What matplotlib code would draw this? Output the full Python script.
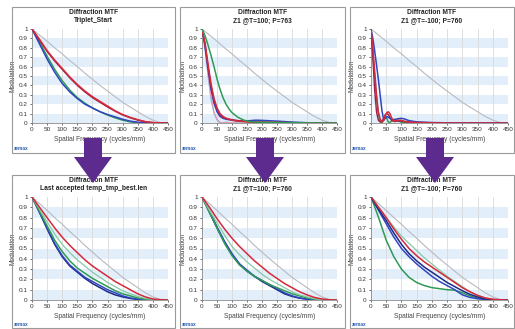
import matplotlib
matplotlib.use("Agg")
import matplotlib.pyplot as plt
from matplotlib.patches import Rectangle, Polygon

plt.rcParams['font.family'] = ['Liberation Sans', 'DejaVu Sans']

W, H = 515, 329

# --- data ---
x_std = [0, 25, 50, 75, 100, 125, 150, 175, 200, 225, 250, 275, 300, 325, 350, 375, 400, 425, 450]
diff_limit = [1.0, 0.935, 0.87, 0.80, 0.735, 0.665, 0.6, 0.53, 0.465, 0.4, 0.34, 0.28, 0.22, 0.17, 0.12, 0.07, 0.03, 0.005, 0.0]

titles = ["Triplet_Start", "Z1 @T=100; P=763", "Z1 @T=-100; P=760",
          "Last accepted temp_tmp_best.len", "Z1 @T=100; P=760", "Z1 @T=-100; P=760"]

# panel 1
p1_red = [1, 0.89, 0.77, 0.67, 0.58, 0.49, 0.41, 0.34, 0.28, 0.23, 0.18, 0.13, 0.09, 0.06, 0.035, 0.015, 0.005, 0, 0]
p1_red2 = [1, 0.88, 0.76, 0.66, 0.57, 0.48, 0.40, 0.33, 0.27, 0.22, 0.17, 0.125, 0.085, 0.055, 0.03, 0.012, 0.004, 0, 0]
p1_blue = [1, 0.84, 0.68, 0.54, 0.42, 0.33, 0.26, 0.20, 0.16, 0.12, 0.09, 0.065, 0.04, 0.02, 0.008, 0.002, 0, 0, 0]
p1_green = [1, 0.86, 0.71, 0.57, 0.45, 0.35, 0.27, 0.21, 0.16, 0.12, 0.085, 0.055, 0.03, 0.012, 0.003, 0, 0, 0, 0]

# panel 2
x_p2 = [0, 10, 20, 30, 40, 50, 60, 70, 80, 90, 100, 120, 140, 160, 180, 200, 250, 300, 350, 400, 450]
p2_green = [1, 0.93, 0.83, 0.72, 0.60, 0.47, 0.36, 0.27, 0.20, 0.15, 0.11, 0.06, 0.03, 0.015, 0.01, 0.008, 0.005, 0.003, 0.001, 0, 0]
p2_red = [1, 0.85, 0.63, 0.42, 0.26, 0.16, 0.10, 0.07, 0.05, 0.04, 0.03, 0.02, 0.015, 0.01, 0.01, 0.008, 0.005, 0.002, 0, 0, 0]
p2_purple = [1, 0.84, 0.60, 0.39, 0.24, 0.15, 0.09, 0.06, 0.05, 0.04, 0.035, 0.025, 0.02, 0.015, 0.01, 0.01, 0.006, 0.003, 0, 0, 0]
p2_blue = [1, 0.82, 0.58, 0.36, 0.21, 0.12, 0.07, 0.05, 0.04, 0.035, 0.03, 0.02, 0.02, 0.025, 0.03, 0.028, 0.02, 0.01, 0.003, 0, 0]
p2_lblue = [1, 0.78, 0.50, 0.25, 0.10, 0.03, 0.0, 0.005, 0.01, 0.005, 0, 0, 0, 0, 0, 0, 0, 0, 0, 0, 0]
p2_pink = [1, 0.80, 0.53, 0.28, 0.12, 0.04, 0.01, 0.0, 0.005, 0.005, 0, 0, 0, 0, 0, 0, 0, 0, 0, 0, 0]

# panel 3
x_p3 = [0, 6, 12, 18, 24, 30, 36, 42, 47, 52, 57, 62, 67, 72, 78, 88, 98, 108, 125, 150, 200, 250, 300, 450]
p3_red = [1, 0.8, 0.55, 0.3, 0.12, 0.04, 0.01, 0.03, 0.08, 0.11, 0.12, 0.10, 0.06, 0.03, 0.02, 0.03, 0.03, 0.02, 0.01, 0.005, 0.002, 0, 0, 0]
p3_blue = [1, 0.9, 0.77, 0.62, 0.47, 0.3, 0.13, 0.03, 0.05, 0.07, 0.06, 0.05, 0.04, 0.035, 0.035, 0.045, 0.05, 0.045, 0.025, 0.012, 0.005, 0.002, 0, 0]
p3_green = [1, 0.75, 0.5, 0.27, 0.1, 0.02, 0, 0.04, 0.07, 0.05, 0.01, 0.005, 0.02, 0.035, 0.04, 0.025, 0.01, 0.005, 0.002, 0, 0, 0, 0, 0]
p3_dred = [1, 0.7, 0.35, 0.12, 0.03, 0.01, 0.02, 0.05, 0.09, 0.1, 0.09, 0.06, 0.03, 0.02, 0.015, 0.02, 0.02, 0.015, 0.01, 0.005, 0, 0, 0, 0]

# panel 4
p4_red = [1, 0.90, 0.80, 0.70, 0.61, 0.53, 0.46, 0.39, 0.33, 0.28, 0.23, 0.18, 0.14, 0.10, 0.06, 0.03, 0.01, 0.003, 0]
p4_lgreen = [1, 0.88, 0.76, 0.64, 0.54, 0.46, 0.39, 0.33, 0.27, 0.22, 0.17, 0.13, 0.09, 0.06, 0.035, 0.015, 0.005, 0, 0]
p4_green = [1, 0.86, 0.72, 0.58, 0.47, 0.38, 0.31, 0.26, 0.21, 0.17, 0.13, 0.09, 0.06, 0.04, 0.02, 0.008, 0.002, 0, 0]
p4_blue = [1, 0.85, 0.70, 0.55, 0.43, 0.34, 0.28, 0.22, 0.18, 0.14, 0.10, 0.07, 0.04, 0.02, 0.01, 0.003, 0, 0, 0]
p4_dblue = [1, 0.85, 0.69, 0.54, 0.42, 0.33, 0.27, 0.21, 0.16, 0.12, 0.08, 0.05, 0.03, 0.015, 0.005, 0, 0, 0, 0]

# panel 5
p5_red = [1, 0.90, 0.79, 0.69, 0.60, 0.52, 0.45, 0.38, 0.32, 0.26, 0.21, 0.16, 0.12, 0.08, 0.05, 0.025, 0.01, 0.002, 0]
p5_lgreen = [1, 0.87, 0.75, 0.63, 0.52, 0.44, 0.37, 0.31, 0.25, 0.20, 0.16, 0.12, 0.08, 0.05, 0.03, 0.012, 0.004, 0, 0]
p5_green = [1, 0.85, 0.70, 0.55, 0.43, 0.34, 0.28, 0.23, 0.19, 0.15, 0.12, 0.09, 0.06, 0.04, 0.02, 0.008, 0.002, 0, 0]
p5_blue = [1, 0.86, 0.71, 0.57, 0.45, 0.35, 0.29, 0.23, 0.19, 0.15, 0.11, 0.07, 0.04, 0.02, 0.01, 0.003, 0, 0, 0]
p5_dblue = [1, 0.85, 0.70, 0.56, 0.44, 0.35, 0.28, 0.23, 0.18, 0.14, 0.10, 0.06, 0.035, 0.018, 0.007, 0.002, 0, 0, 0]

# panel 6
p6_lgreen = [1, 0.90, 0.80, 0.71, 0.62, 0.55, 0.48, 0.41, 0.35, 0.29, 0.23, 0.18, 0.13, 0.08, 0.045, 0.02, 0.006, 0, 0]
p6_red = [1, 0.90, 0.80, 0.69, 0.59, 0.50, 0.43, 0.37, 0.32, 0.27, 0.22, 0.17, 0.12, 0.08, 0.045, 0.02, 0.007, 0.002, 0]
p6_dblue = [1, 0.88, 0.77, 0.65, 0.54, 0.45, 0.38, 0.32, 0.27, 0.22, 0.17, 0.13, 0.09, 0.055, 0.03, 0.012, 0.003, 0, 0]
p6_blue = [1, 0.87, 0.74, 0.61, 0.50, 0.42, 0.35, 0.29, 0.23, 0.18, 0.14, 0.10, 0.05, 0.025, 0.012, 0.004, 0, 0, 0]
p6_green = [1, 0.80, 0.58, 0.42, 0.30, 0.22, 0.17, 0.14, 0.12, 0.11, 0.10, 0.095, 0.07, 0.04, 0.02, 0.006, 0, 0, 0]

x_ticks = [0, 50, 100, 150, 200, 250, 300, 350, 400, 450]
y_ticks = [0, 0.1, 0.2, 0.3, 0.4, 0.5, 0.6, 0.7, 0.8, 0.9, 1]
y_labels = ["0", "0.1", "0.2", "0.3", "0.4", "0.5", "0.6", "0.7", "0.8", "0.9", "1"]

RED, DRED = "#d32a3c", "#9c1f4a"
BLUE, DBLUE = "#3046c0", "#1c2a86"
GREEN, LGREEN = "#2f9a55", "#86c9a6"
LBLUE, PINK = "#86bfe6", "#e897b0"
GRAY = "#b9b9c2"

panels = [
    (x_std, [(p1_green, GREEN, 1.1), (p1_blue, BLUE, 1.1), (p1_red2, DRED, 1.0), (p1_red, RED, 1.1)]),
    (x_p2, [(p2_lblue, LBLUE, 0.8), (p2_pink, PINK, 0.8), (p2_blue, BLUE, 1.1),
            (p2_purple, DRED, 1.1), (p2_red, RED, 1.1), (p2_green, GREEN, 1.1)]),
    (x_p3, [(p3_green, GREEN, 1.1), (p3_dred, DRED, 1.0), (p3_blue, BLUE, 1.1), (p3_red, RED, 1.1)]),
    (x_std, [(p4_dblue, DBLUE, 1.1), (p4_blue, BLUE, 1.1), (p4_green, GREEN, 1.1),
             (p4_lgreen, LGREEN, 0.9), (p4_red, RED, 1.1)]),
    (x_std, [(p5_dblue, DBLUE, 1.1), (p5_blue, BLUE, 1.1), (p5_green, GREEN, 1.1),
             (p5_lgreen, LGREEN, 0.9), (p5_red, RED, 1.1)]),
    (x_std, [(p6_lgreen, LGREEN, 0.9), (p6_green, GREEN, 1.1), (p6_blue, BLUE, 1.1),
             (p6_dblue, DBLUE, 1.1), (p6_red, RED, 1.1)]),
]

# layout in pixels
frame_x = [(12, 175), (180, 345), (350, 514)]
frame_y = [(7, 153), (175, 328)]
axes_x = [(32, 168), (202, 337), (371, 508)]
axes_y = [(29, 123), (197, 300)]


def fx(px):
    return px / W


def fy(py):
    return 1 - py / H


fig = plt.figure(figsize=(W / 100, H / 100), dpi=100)
fig.patch.set_facecolor("white")

for i, (xs, curves) in enumerate(panels):
    row, col = divmod(i, 3)
    x0, x1 = frame_x[col]
    y0, y1 = frame_y[row]
    fig.patches.append(Rectangle((fx(x0), fy(y1)), fx(x1) - fx(x0), fy(y0) - fy(y1),
                                 transform=fig.transFigure, fill=False,
                                 edgecolor="#9a9a9a", linewidth=0.8))
    ax0, ax1 = axes_x[col]
    ay0, ay1 = axes_y[row]
    ax = fig.add_axes([fx(ax0), fy(ay1), fx(ax1) - fx(ax0), fy(ay0) - fy(ay1)])
    for b in [0.0, 0.2, 0.4, 0.6, 0.8]:
        ax.axhspan(b, b + 0.1, color="#e2effa", linewidth=0, zorder=0)
    for t in x_ticks[1:]:
        ax.axvline(t, color="#d9d9d9", linewidth=0.6, zorder=0.5)
    ax.plot(x_std, diff_limit, color=GRAY, linewidth=0.8, zorder=2)
    for ys, c, lw in curves:
        ax.plot(xs, ys, color=c, linewidth=lw, zorder=3)
    ax.set_xlim(0, 450)
    ax.set_ylim(0, 1.0)
    ax.set_xticks(x_ticks)
    ax.set_yticks(y_ticks)
    ax.set_yticklabels(y_labels)
    ax.tick_params(labelsize=4.6, length=1.5, width=0.5, pad=1.5, colors="#333333")
    for s in ["top", "right"]:
        ax.spines[s].set_visible(False)
    for s in ["left", "bottom"]:
        ax.spines[s].set_color("#8a8a8a")
        ax.spines[s].set_linewidth(0.6)
    ax.set_facecolor("white")
    ax.set_ylabel("Modulation", fontsize=4.8, labelpad=2, color="#444444")
    ax.set_xlabel("Spatial Frequency (cycles/mm)", fontsize=4.8, labelpad=3, color="#444444")

    cx = (x0 + x1) / 2
    fig.text(fx(cx), fy(y0 + 5.5), "Diffraction MTF", ha="center", va="center",
             fontsize=4.8, fontweight="bold", color="#222222")
    fig.text(fx(cx), fy(y0 + 13.5), titles[i], ha="center", va="center",
             fontsize=4.8, fontweight="bold", color="#222222")
    fig.text(fx(x0 + 2), fy(y1 - 4), "zemax", ha="left", va="center",
             fontsize=3.4, fontweight="bold", color="#2a5db0")

# purple arrows between the rows
for cx in [93, 265, 435]:
    pts = [(cx - 9, 138), (cx + 9, 138), (cx + 9, 157), (cx + 19, 157),
           (cx, 183), (cx - 19, 157), (cx - 9, 157)]
    fig.patches.append(Polygon([(fx(px), fy(py)) for px, py in pts], closed=True,
                               transform=fig.transFigure, facecolor="#5d2a8e",
                               edgecolor="none", zorder=10))

fig.savefig("out.png", dpi=100)
